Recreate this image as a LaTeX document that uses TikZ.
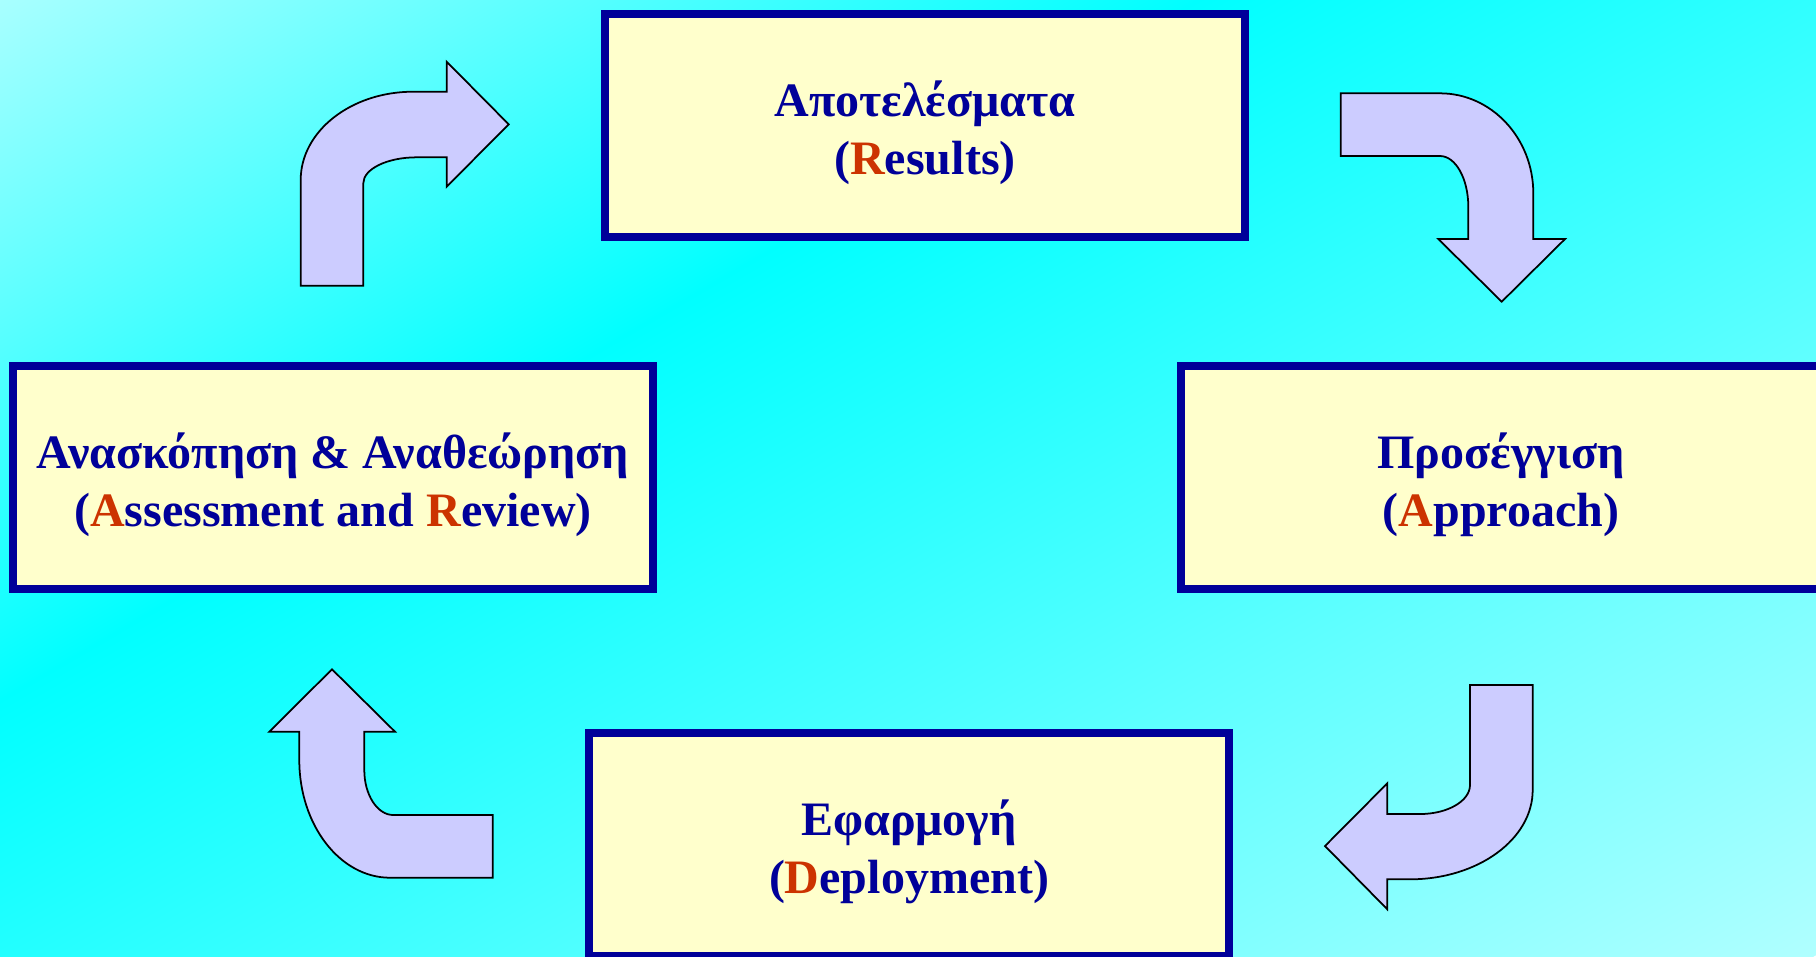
\documentclass[tikz,border=0pt]{standalone}
\usepackage{fontspec}
\setmainfont{Liberation Serif}

\definecolor{boxfill}{HTML}{FFFFCC}
\definecolor{boxline}{HTML}{000099}
\definecolor{keyred}{HTML}{CC3300}
\definecolor{turnfill}{HTML}{CCCCFF}
\definecolor{paletl}{HTML}{A8FFFF}
\definecolor{palebr}{HTML}{B0FFFF}

\newcommand{\keyletter}[1]{\textcolor{keyred}{#1}}

\tikzset{
stage/.style = {draw = boxline, fill = boxfill, line width = 0.8mm, minimum width = 64mm, minimum height = 22.3mm, align = center, text = boxline, text height = 31pt, text depth = 3pt, font = \fontsize{13.66}{16.5}\selectfont\bfseries},
turn/.style = {draw = black, fill = turnfill, line width = 0.5pt, line join = miter}
}

\begin{document}
\begin{tikzpicture}[x = 0.1mm, y = -0.1mm]
\useasboundingbox (0,0) rectangle (1816,956);
\clip (0,0) rectangle (1816,956);
\begin{scope}[transform canvas = {rotate around = {-59.7:(774,248.4)}}]
\shade [left color = paletl, right color = cyan] (169,-1052) rectangle (775,1548);
\shade [left color = cyan, right color = palebr] (773,-1052) rectangle (1910,1548);
\end{scope}

\node [stage] (results) at (925,125.5) {Αποτελέσματα\\(\keyletter{R}esults)};
\node [stage] (approach) at (1501,477.5) {Προσέγγιση\\(\keyletter{A}pproach)};
\node [stage] (deploy) at (909,844.5) {Εφαρμογή\\(\keyletter{D}eployment)};
\node [stage] (review) at (333,477.5) {Ανασκόπηση \& Αναθεώρηση\\(\keyletter{A}ssessment and \keyletter{R}eview)};

\draw [turn] (300.7,285.7) -- (363.3,285.7) -- (363.3,183.3) .. controls (363.3,169) and (387.2,157.3) .. (416.7,157.3) -- (446.7,157.3) -- (446.7,186.7) -- (508.7,124.3) -- (446.7,61.7) -- (446.7,91.7) -- (413,91.7) .. controls (351,91.7) and (300.7,131.3) .. (300.7,180) -- cycle;
\draw [turn] (1340.7,93.3) -- (1440,93.3) .. controls (1491.5,93.3) and (1533.3,138.1) .. (1533.3,193.3) -- (1533.3,239) -- (1565,239) -- (1501.7,301.7) -- (1438.3,239) -- (1468.3,239) -- (1468.3,206.7) .. controls (1468.3,178.7) and (1455.6,156) .. (1440,156) -- (1340.7,156) -- cycle;
\draw [turn] (1470,685) -- (1532.7,685) -- (1532.7,790) .. controls (1532.7,839.3) and (1477.7,879.3) .. (1410,879.3) -- (1387.3,879.3) -- (1387.3,909.3) -- (1325,846) -- (1387.3,783.3) -- (1387.3,814) -- (1420,814) .. controls (1447.6,814) and (1470,801) .. (1470,785) -- cycle;
\draw [turn] (332,669.3) -- (395,731.7) -- (364.3,731.7) -- (364.3,770) .. controls (364.3,794.8) and (377.3,815) .. (393.3,815) -- (492.7,815) -- (492.7,877.7) -- (390,877.7) .. controls (340,877.7) and (299.3,825) .. (299.3,760) -- (299.3,731.7) -- (269.3,731.7) -- cycle;
\end{tikzpicture}
\end{document}
